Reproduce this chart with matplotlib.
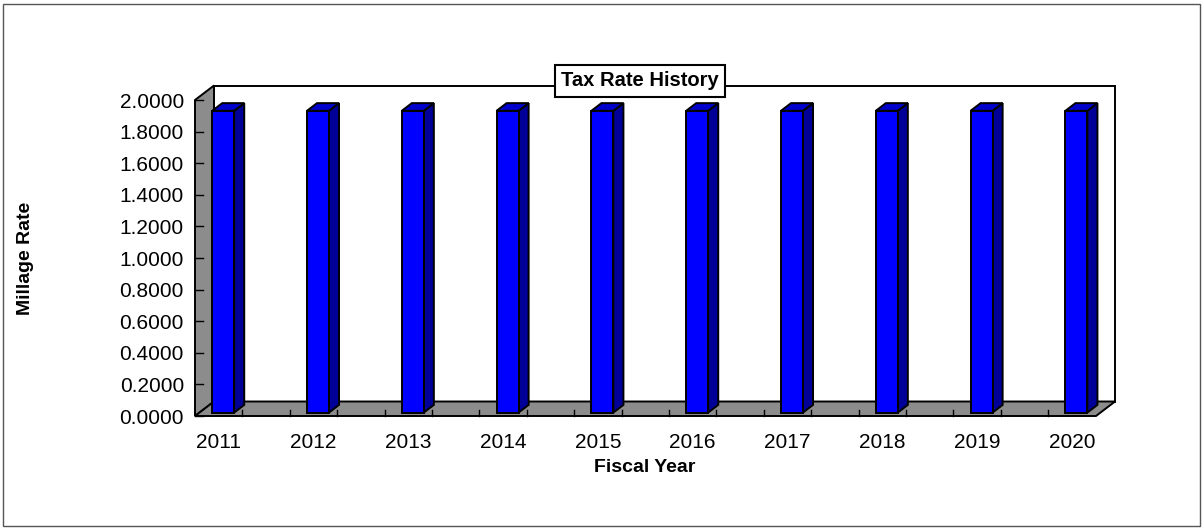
import numpy as np
import matplotlib
matplotlib.use("Agg")
import matplotlib.pyplot as plt
from matplotlib.patches import Polygon, Rectangle

plt.rcParams['font.family'] = ['Liberation Sans', 'DejaVu Sans']

# === Données ===
years = ["2011", "2012", "2013", "2014", "2015", "2016", "2017", "2018", "2019", "2020"]
rates = [1.91, 1.91, 1.91, 1.91, 1.91, 1.91, 1.91, 1.91, 1.91, 1.91]
yticks = [0.0, 0.2, 0.4, 0.6, 0.8, 1.0, 1.2, 1.4, 1.6, 1.8, 2.0]

W, H = 1204, 529
fig = plt.figure(figsize=(W / 100, H / 100), dpi=100)

# zone du plan avant (pixels)
px_left, px_right, px_top, px_bot = 195, 1096, 100, 416
ax = fig.add_axes([px_left / W, 1 - px_bot / H,
                   (px_right - px_left) / W, (px_bot - px_top) / H])
x0, x1 = -0.25, -0.25 + (px_right - px_left) / 94.8
y0, y1 = 0.0, 2.0
ax.set_xlim(x0, x1)
ax.set_ylim(y0, y1)
for s in ax.spines.values():
    s.set_visible(False)
ax.patch.set_visible(False)

# profondeur 3D (oblique)
ddx = 19 / 94.8
ddy = 14.5 / ((px_bot - px_top) / 2.0)
lw = 1.4

def poly(pts, fc, z=1):
    ax.add_patch(Polygon(pts, closed=True, facecolor=fc, edgecolor="black",
                         linewidth=lw, clip_on=False, zorder=z, joinstyle="miter"))

# mur du fond
poly([(x0 + ddx, y0 + ddy), (x1 + ddx, y0 + ddy), (x1 + ddx, y1 + ddy), (x0 + ddx, y1 + ddy)], "white", 1)
# mur gauche
poly([(x0, y0), (x0 + ddx, y0 + ddy), (x0 + ddx, y1 + ddy), (x0, y1)], "#8c8c8c", 2)
# sol
poly([(x0, y0), (x1, y0), (x1 + ddx, y0 + ddy), (x0 + ddx, y0 + ddy)], "#8c8c8c", 2)

# graduations
for v in yticks:
    ax.plot([x0, x0 + 0.08], [v, v], color="black", lw=1, clip_on=False, zorder=3)
for k in range(1, 19):
    xt = x0 + 0.5 * k
    ax.plot([xt, xt], [y0, y0 + 0.035], color="black", lw=1, clip_on=False, zorder=3)

# barres 3D
bw = 22 / 94.8
bd = 0.53
off = (1 - bd) / 2
for i, v in enumerate(rates):
    fx = i - bw / 2 + off * ddx
    fy = off * ddy
    bx, by = bd * ddx, bd * ddy
    front = [(fx, fy), (fx + bw, fy), (fx + bw, fy + v), (fx, fy + v)]
    top = [(fx, fy + v), (fx + bw, fy + v), (fx + bw + bx, fy + v + by), (fx + bx, fy + v + by)]
    side = [(fx + bw, fy), (fx + bw + bx, fy + by), (fx + bw + bx, fy + v + by), (fx + bw, fy + v)]
    poly(side, "#000099", 5)
    poly(top, "#0000cc", 5)
    poly(front, "#0000ff", 6)

ax.set_yticks(yticks)
ax.set_yticklabels([f"{v:.4f}" for v in yticks], fontsize=15)
ax.set_xticks(range(len(years)))
ax.set_xticklabels(years, fontsize=15)
ax.tick_params(axis="y", length=0, pad=8)
ax.tick_params(axis="x", length=0, pad=12)

fig.text(645 / W, 1 - 467 / H, "Fiscal Year", fontsize=14, fontweight="bold",
         ha="center", va="center")
fig.text(25 / W, 1 - 258 / H, "Millage Rate", fontsize=14, fontweight="bold",
         ha="center", va="center", rotation=90)
fig.text(640 / W, 1 - 81 / H, "Tax Rate History", fontsize=14.5, fontweight="bold",
         ha="center", va="center", zorder=10,
         bbox=dict(boxstyle="square,pad=0.3", facecolor="white", edgecolor="black", linewidth=1.5))

# cadre
fig.patches.append(Rectangle((3 / W, 3 / H), 1 - 7 / W, 1 - 7 / H, transform=fig.transFigure,
                             fill=False, edgecolor="#555555", linewidth=1))

fig.savefig("out.png", dpi=100)
